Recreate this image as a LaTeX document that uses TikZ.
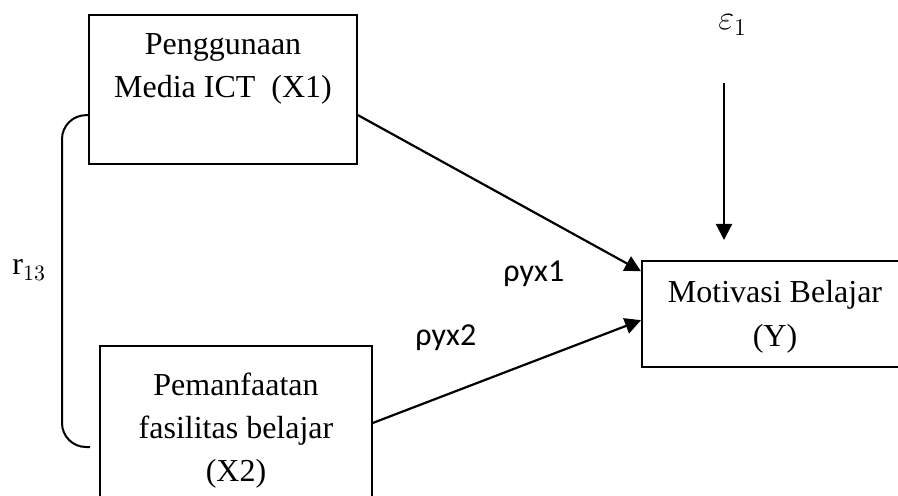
\documentclass[tikz,border=0pt]{standalone}
\usepackage{fontspec}
\setmainfont{Liberation Serif}
\newfontfamily\calfont{Carlito}
\usetikzlibrary{arrows.meta,calc}
\begin{document}
\begin{tikzpicture}[x=0.5pt,y=-0.5pt,
  box/.style={draw,line width=1pt,inner sep=0pt},
  txt/.style={align=center,anchor=base,inner sep=0pt,font=\fontsize{16}{21.5}\selectfont},
  lbl/.style={inner sep=0pt,anchor=base west,font=\fontsize{16}{19}\selectfont},
  cal/.style={inner sep=0pt,anchor=base west,font=\calfont\fontsize{16}{19}\selectfont},
  arr/.style={line width=1.1pt,-{Triangle[length=8pt,width=8pt]}},
  link/.style={line width=1pt,rounded corners=12pt}]
\useasboundingbox (0,0) rectangle (898,496);
\clip (0,0) rectangle (898,496);
% boxes
\node[box,minimum width=134pt,minimum height=74.5pt] (x1) at (223,89.5) {};
\node[box,minimum width=136pt,minimum height=90pt] (x2) at (236,436) {};
\node[box,minimum width=133pt,minimum height=53pt] (y) at (775,314) {};
% box texts (anchor = baseline of last line)
\node[txt] (t1) at (223,98) {Penggunaan\\Media ICT\ \ (X1)};
\node[txt] (t2) at (236,481) {Pemanfaatan\\fasilitas belajar\\(X2)};
\node[txt] (t3) at (775,346) {Motivasi Belajar\\(Y)};
% labels
\node[lbl,font=\fontsize{18}{20}\selectfont] (eps) at (718,30) {$\varepsilon_1$};
\node[lbl] (r) at (12,275) {$\mathrm{r}_{13}$};
\node[cal] (p1) at (503,282) {ρyx1};
\node[cal] (p2) at (415,345) {ρyx2};
% connectors
\draw[arr] ($(x1.north east)!0.67!(x1.south east)$) -- ($(y.north west)!0.104!(y.south west)$);
\draw[arr] ($(x2.north east)!0.428!(x2.south east)$) -- ($(y.north west)!0.557!(y.south west)$);
\coordinate (e0) at (724,83);
\coordinate (e1) at (724,240);
\draw[arr] (e0) -- (e1);
\coordinate (b1) at (90,447);
\draw[link] ($(x1.north west)!0.67!(x1.south west)$) -| (62,447) -- (b1);
\end{tikzpicture}
\end{document}
